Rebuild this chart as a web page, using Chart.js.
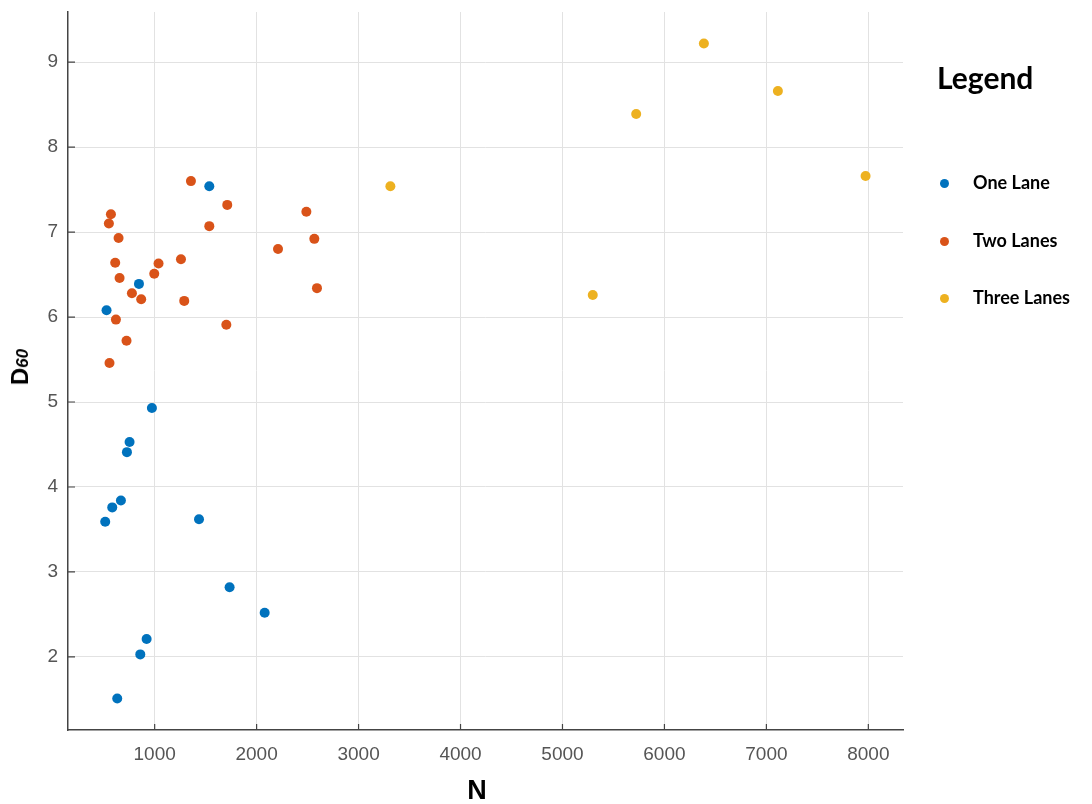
<!DOCTYPE html>
<html>
<head>
<meta charset="utf-8">
<script src="https://cdn.jsdelivr.net/npm/chart.js@4/dist/chart.umd.min.js"></script>
<style>
  body { margin: 0; background: #fff; }
  #wrap { position: relative; width: 1092px; height: 804px; overflow: hidden; }
  #chart { position: absolute; left: 0; top: 0; }
  .ytitle {
    position: absolute; left: 20px; top: 367px;
    transform: translate(-50%, -50%) rotate(-90deg);
    font-family: "Liberation Sans", Arial, sans-serif; font-weight: bold;
    font-size: 24px; color: #000; white-space: nowrap;
  }
  .ytitle i { font-size: 17px; }
  .xtitle {
    position: absolute; left: 477px; top: 790px;
    transform: translate(-50%, -50%);
    font-family: "Liberation Sans", Arial, sans-serif; font-weight: bold;
    font-size: 27px; color: #000;
  }
  #legend { position: absolute; left: 937px; top: 0; font-family: Lato, "Open Sans", sans-serif; }
  #legend .head { position: absolute; left: 0; top: 77px; transform: translateY(-50%);
    font-size: 30px; font-weight: bold; color: #000; white-space: nowrap; }
  #legend .item { position: absolute; left: 0; transform: translateY(-50%);
    font-size: 18px; font-weight: bold; color: #000; white-space: nowrap; }
  #legend .dot { display: inline-block; width: 9px; height: 9px; border-radius: 50%;
    margin: 0 24px 0 3px; vertical-align: middle; position: relative; top: -1px; }
</style>
</head>
<body>
<div id="wrap">
  <canvas id="chart" width="1092" height="804"></canvas>
  <div class="ytitle">D<i>60</i></div>
  <div class="xtitle">N</div>
  <div id="legend"></div>
</div>
<script>
// One Lane
const oneLaneN = [1536, 846, 528, 973, 754, 728, 669, 584, 515, 1435, 1735, 2079, 921, 859, 633];
const oneLaneD = [7.54, 6.39, 6.08, 4.93, 4.53, 4.41, 3.84, 3.76, 3.59, 3.62, 2.82, 2.52, 2.21, 2.03, 1.51];
// Two Lanes
const twoLanesN = [1356, 1712, 571, 551, 1536, 2488, 646, 2566, 2210, 613, 1038, 1258, 656, 996, 777, 868, 1290, 2592, 620, 1703, 724, 557];
const twoLanesD = [7.60, 7.32, 7.21, 7.10, 7.07, 7.24, 6.93, 6.92, 6.80, 6.64, 6.63, 6.68, 6.46, 6.51, 6.28, 6.21, 6.19, 6.34, 5.97, 5.91, 5.72, 5.46];
// Three Lanes
const threeLanesN = [6387, 7113, 5723, 7973, 5297, 3312];
const threeLanesD = [9.22, 8.66, 8.39, 7.66, 6.26, 7.54];

const seriesNames = ["One Lane", "Two Lanes", "Three Lanes"];
const seriesColors = ["#0072BD", "#D95319", "#EDB120"];

const xTicks = [1000, 2000, 3000, 4000, 5000, 6000, 7000, 8000];
const yTicks = [2, 3, 4, 5, 6, 7, 8, 9];

const toPoints = (xs, ys) => xs.map((x, i) => ({ x: x, y: ys[i] }));

const datasets = [
  toPoints(oneLaneN, oneLaneD),
  toPoints(twoLanesN, twoLanesD),
  toPoints(threeLanesN, threeLanesD),
].map((pts, i) => ({
  label: seriesNames[i],
  data: pts,
  backgroundColor: seriesColors[i],
  borderColor: seriesColors[i],
  borderWidth: 0,
  pointRadius: 5,
}));

// small inward tick marks like the original
const innerTicks = {
  id: "innerTicks",
  afterDraw(chart) {
    const { ctx, chartArea, scales } = chart;
    ctx.save();
    ctx.strokeStyle = "#444";
    ctx.lineWidth = 1.2;
    ctx.beginPath();
    xTicks.forEach((v) => {
      const px = scales.x.getPixelForValue(v);
      ctx.moveTo(px, chartArea.bottom);
      ctx.lineTo(px, chartArea.bottom - 6);
    });
    yTicks.forEach((v) => {
      const py = scales.y.getPixelForValue(v);
      ctx.moveTo(chartArea.left, py);
      ctx.lineTo(chartArea.left + 7, py);
    });
    ctx.stroke();
    ctx.restore();
  },
};

const tickFont = { family: "'Liberation Sans', Arial, sans-serif", size: 19 };

const noPad = (s) => {
  s.paddingTop = 0; s.paddingBottom = 0; s.paddingLeft = 0; s.paddingRight = 0;
};

new Chart(document.getElementById("chart").getContext("2d"), {
  type: "scatter",
  data: { datasets },
  options: {
    responsive: false,
    devicePixelRatio: 1,
    animation: false,
    layout: { padding: { top: 12, right: 189, left: 0, bottom: 0 } },
    plugins: { legend: { display: false }, tooltip: { enabled: false } },
    scales: {
      x: {
        type: "linear",
        min: 150,
        max: 8340,
        afterFit: (s) => { s.height = 74; noPad(s); },
        afterBuildTicks: (s) => { s.ticks = xTicks.map((v) => ({ value: v })); },
        ticks: { font: tickFont, color: "#555", padding: 13, callback: (v) => String(v) },
        grid: { color: "#e2e2e2", drawTicks: false },
        border: { color: "#444", width: 1.5 },
      },
      y: {
        min: 1.14,
        max: 9.59,
        afterFit: (s) => { s.width = 68; noPad(s); },
        afterBuildTicks: (s) => { s.ticks = yTicks.map((v) => ({ value: v })); },
        ticks: { font: tickFont, color: "#555", padding: 10 },
        grid: { color: "#e2e2e2", drawTicks: false },
        border: { color: "#444", width: 1.5 },
      },
    },
  },
  plugins: [innerTicks],
});

// legend on the right
const legend = document.getElementById("legend");
const head = document.createElement("div");
head.className = "head";
head.textContent = "Legend";
legend.appendChild(head);
const itemY = [182, 240, 297];
seriesNames.forEach((name, i) => {
  const item = document.createElement("div");
  item.className = "item";
  item.style.top = itemY[i] + "px";
  const dot = document.createElement("span");
  dot.className = "dot";
  dot.style.background = seriesColors[i];
  item.appendChild(dot);
  item.appendChild(document.createTextNode(name));
  legend.appendChild(item);
});
</script>
</body>
</html>
